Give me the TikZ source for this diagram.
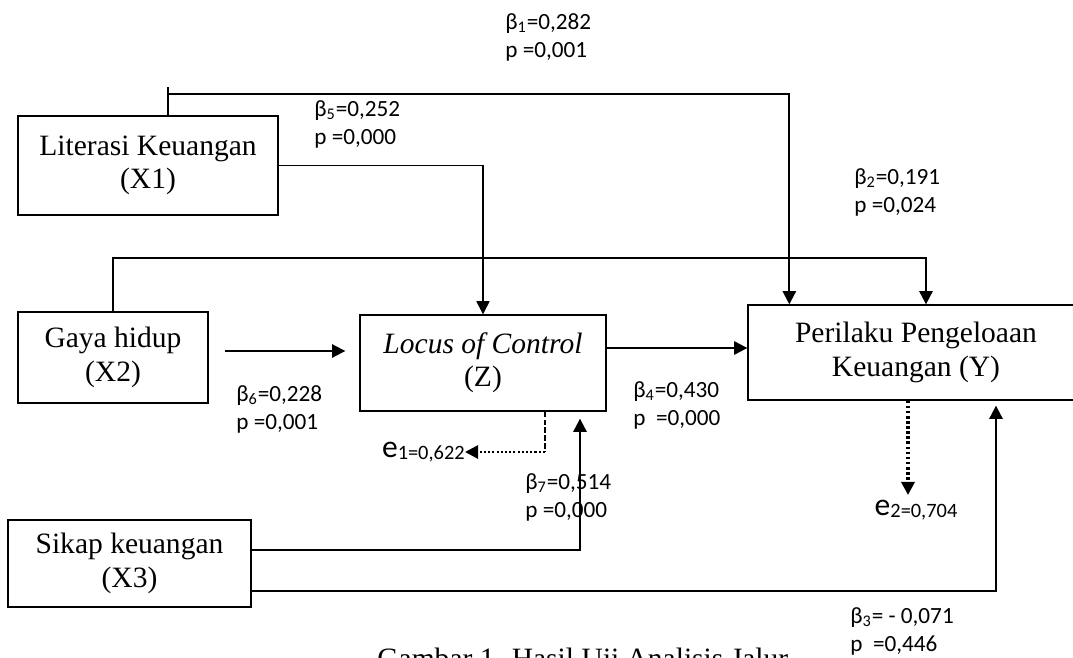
\documentclass[tikz,border=0pt]{standalone}
\usepackage{fontspec}
\setmainfont{Liberation Serif}
\newfontfamily\calfont{Carlito}
\usetikzlibrary{arrows.meta,calc,positioning}

\begin{document}
\begin{tikzpicture}[x=0.2mm,y=-0.2mm,
block/.style={
draw,
line width=0.75pt,
rectangle,
inner sep=0pt,
align=center,
font=\fontsize{16.8}{19}\selectfont},
lbl/.style={
anchor=north west,
inner sep=0pt,
align=left,
font=\calfont\fontsize{13.2}{16}\selectfont},
tip/.style={-{Triangle[length=7.5pt,width=7.5pt]}},
thk/.style={line width=1.2pt}]
\useasboundingbox (0,0) rectangle (1073,657);
\clip (0,0) rectangle (1073,657);

% the five variables
\node[block,minimum width=52mm,minimum height=19.8mm](a) at (148,165.5){Literasi Keuangan\\(X1)};
\node[block,minimum width=38mm,minimum height=18.2mm](b) at (113,357.5){Gaya hidup\\(X2)};
\node[block,minimum width=48.6mm,minimum height=17.4mm](c) at (129.5,563.5){Sikap keuangan\\(X3)};
\node[block,minimum width=49.2mm,minimum height=19.2mm](d) at (483,363){\textit{Locus of Control}\\(Z)};
\node[block,minimum width=67.2mm,minimum height=19mm](e) at (916,352.5){Perilaku Pengeloaan\\Keuangan (Y)};

% path coefficients
\node[lbl](b1) at (505,13){β\textsubscript{1}=0,282\\p =0,001};
\node[lbl](b5) at (314,100){β\textsubscript{5}=0,252\\p =0,000};
\node[lbl](b2) at (854,168){β\textsubscript{2}=0,191\\p =0,024};
\node[lbl](b6) at (236,385){β\textsubscript{6}=0,228\\p =0,001};
\node[lbl](b4) at (633,381){β\textsubscript{4}=0,430\\p\ \ =0,000};
\node[lbl](b7) at (525,473){β\textsubscript{7}=0,514\\p =0,000};
\node[lbl](b3) at (850,607){β\textsubscript{3}= - 0,071\\p\ \ =0,446};

% errors
\node[anchor=east,inner sep=0pt,font=\calfont](e1) at (465,452){{\fontsize{18}{18}\selectfont e}\raisebox{-1pt}{\fontsize{11.6}{12}\selectfont 1=0,622}};
\node[anchor=north,inner sep=0pt,font=\calfont](e2) at (916,500){{\fontsize{18}{18}\selectfont e}\raisebox{-1pt}{\fontsize{11.6}{12}\selectfont 2=0,704}};

\node[anchor=base west,inner sep=0pt,font=\fontsize{16.8}{19}\selectfont](cap) at (377,668){Gambar 1. Hasil Uji Analisis Jalur};

\coordinate (t1) at (168,94);
\coordinate (t2) at (926,258);
\coordinate (t7) at (580,550);
\coordinate (t3) at (996,591);
\coordinate (h2) at (0,351);
\coordinate (h4) at (0,348);
\coordinate (k1) at (545,452);
\coordinate (k2) at (908,495);

\draw[thk] (a.north -| t1) -- ++(0,-28);
\draw[thk,tip] (t1) -| ($(e.north west)+(42,0)$);
\draw[line width=0.6pt,tip] (a.east) -| (d.north);
\draw[thk,tip] (b.north) |- (t2) -- (t2 |- e.north);
\draw[line width=1pt,tip] ($(b.east |- h2)+(16,0)$) -- ($(d.west |- h2)+(-14,0)$);
\draw[thk,tip] (d.east |- h4) -- (e.west |- h4);
\draw[thk,tip] (c.east |- t7) -- (t7) -- ($(d.south -| t7)+(0,7)$);
\draw[thk,tip] (c.east |- t3) -- (t3) -- ($(e.south -| t3)+(0,5)$);
\draw[line width=1.4pt,dash pattern=on 3pt off 1.5pt] (d.south -| k1) -- (k1);
\draw[line width=1.6pt,dash pattern=on 1.2pt off 1.2pt,tip] (k1) -- (e1.east);
\draw[line width=1.8pt,dash pattern=on 1.5pt off 1.4pt,tip] (e.south -| k2) -- (k2);
\end{tikzpicture}
\end{document}
